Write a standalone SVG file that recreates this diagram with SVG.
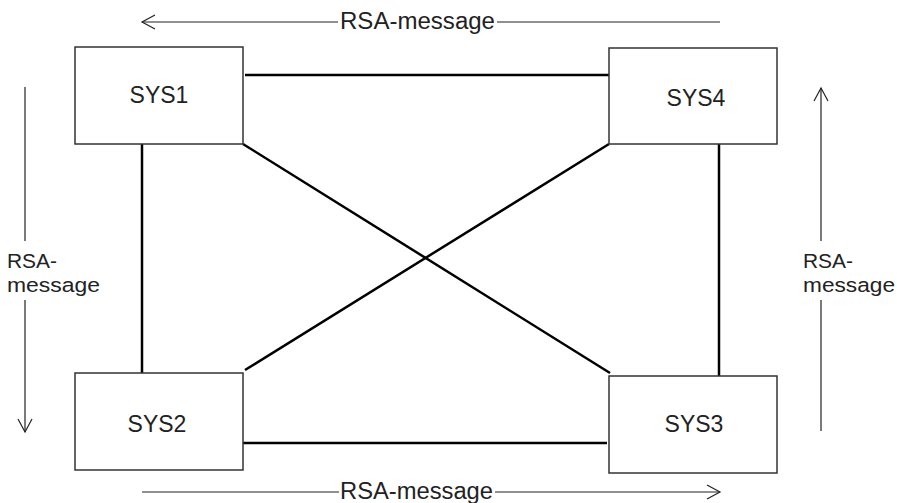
<svg xmlns="http://www.w3.org/2000/svg" width="897" height="503" viewBox="0 0 897 503">
<style>
.box{fill:#fff;stroke:#333;stroke-width:1.5}
.lbl{font-family:"Liberation Sans",Arial,sans-serif;font-size:23px;fill:#222;text-anchor:middle}
.msg{font-family:"Liberation Sans",Arial,sans-serif;font-size:23px;fill:#222}
.side{font-family:"Liberation Sans",Arial,sans-serif;font-size:20.5px;fill:#222}
.link{stroke:#000;stroke-width:2.5;fill:none}
.arr{stroke:#222;stroke-width:1.2;fill:none}
</style>
<rect width="897" height="503" fill="#fff"/>
<g id="connectors">
<line class="link" x1="245" y1="75" x2="609" y2="75"/>
<line class="link" x1="142" y1="144" x2="142" y2="373"/>
<line class="link" x1="719" y1="144" x2="719" y2="376"/>
<line class="link" x1="243" y1="443" x2="607" y2="443"/>
<line class="link" x1="243" y1="144" x2="610" y2="373"/>
<line class="link" x1="609" y1="144" x2="245" y2="370"/>
</g>
<g id="arrows">
<line class="arr" x1="142" y1="22" x2="338" y2="22"/>
<line class="arr" x1="497" y1="22" x2="720" y2="22"/>
<polyline class="arr" points="155,15 142,22 155,29"/>
<line class="arr" x1="142" y1="492" x2="339" y2="492"/>
<line class="arr" x1="495" y1="492" x2="720" y2="492"/>
<polyline class="arr" points="707,485 720,492 707,499"/>
<line class="arr" x1="25" y1="87" x2="25" y2="241"/>
<line class="arr" x1="25" y1="300" x2="25" y2="432"/>
<polyline class="arr" points="18,419 25,432 32,419"/>
<line class="arr" x1="821" y1="431" x2="821" y2="300"/>
<line class="arr" x1="821" y1="241" x2="821" y2="88"/>
<polyline class="arr" points="814,101 821,88 828,101"/>
</g>
<g id="labels">
<text class="msg" x="340" y="29" textLength="155" lengthAdjust="spacingAndGlyphs">RSA-message</text>
<text class="msg" x="340" y="499" textLength="153" lengthAdjust="spacingAndGlyphs">RSA-message</text>
<text class="side" x="7" y="268" textLength="50" lengthAdjust="spacingAndGlyphs">RSA-</text>
<text class="side" x="7" y="292" textLength="93" lengthAdjust="spacingAndGlyphs">message</text>
<text class="side" x="803" y="268" textLength="50" lengthAdjust="spacingAndGlyphs">RSA-</text>
<text class="side" x="803" y="292" textLength="92" lengthAdjust="spacingAndGlyphs">message</text>
</g>
<g id="SYS1">
<rect class="box" x="75" y="47" width="168" height="97"/>
<text class="lbl" x="159" y="103">SYS1</text>
</g>
<g id="SYS4">
<rect class="box" x="609" y="48" width="168" height="96"/>
<text class="lbl" x="696" y="106">SYS4</text>
</g>
<g id="SYS2">
<rect class="box" x="75" y="373" width="168" height="97"/>
<text class="lbl" x="157" y="432">SYS2</text>
</g>
<g id="SYS3">
<rect class="box" x="609" y="376" width="168" height="97"/>
<text class="lbl" x="694" y="432">SYS3</text>
</g>
</svg>
